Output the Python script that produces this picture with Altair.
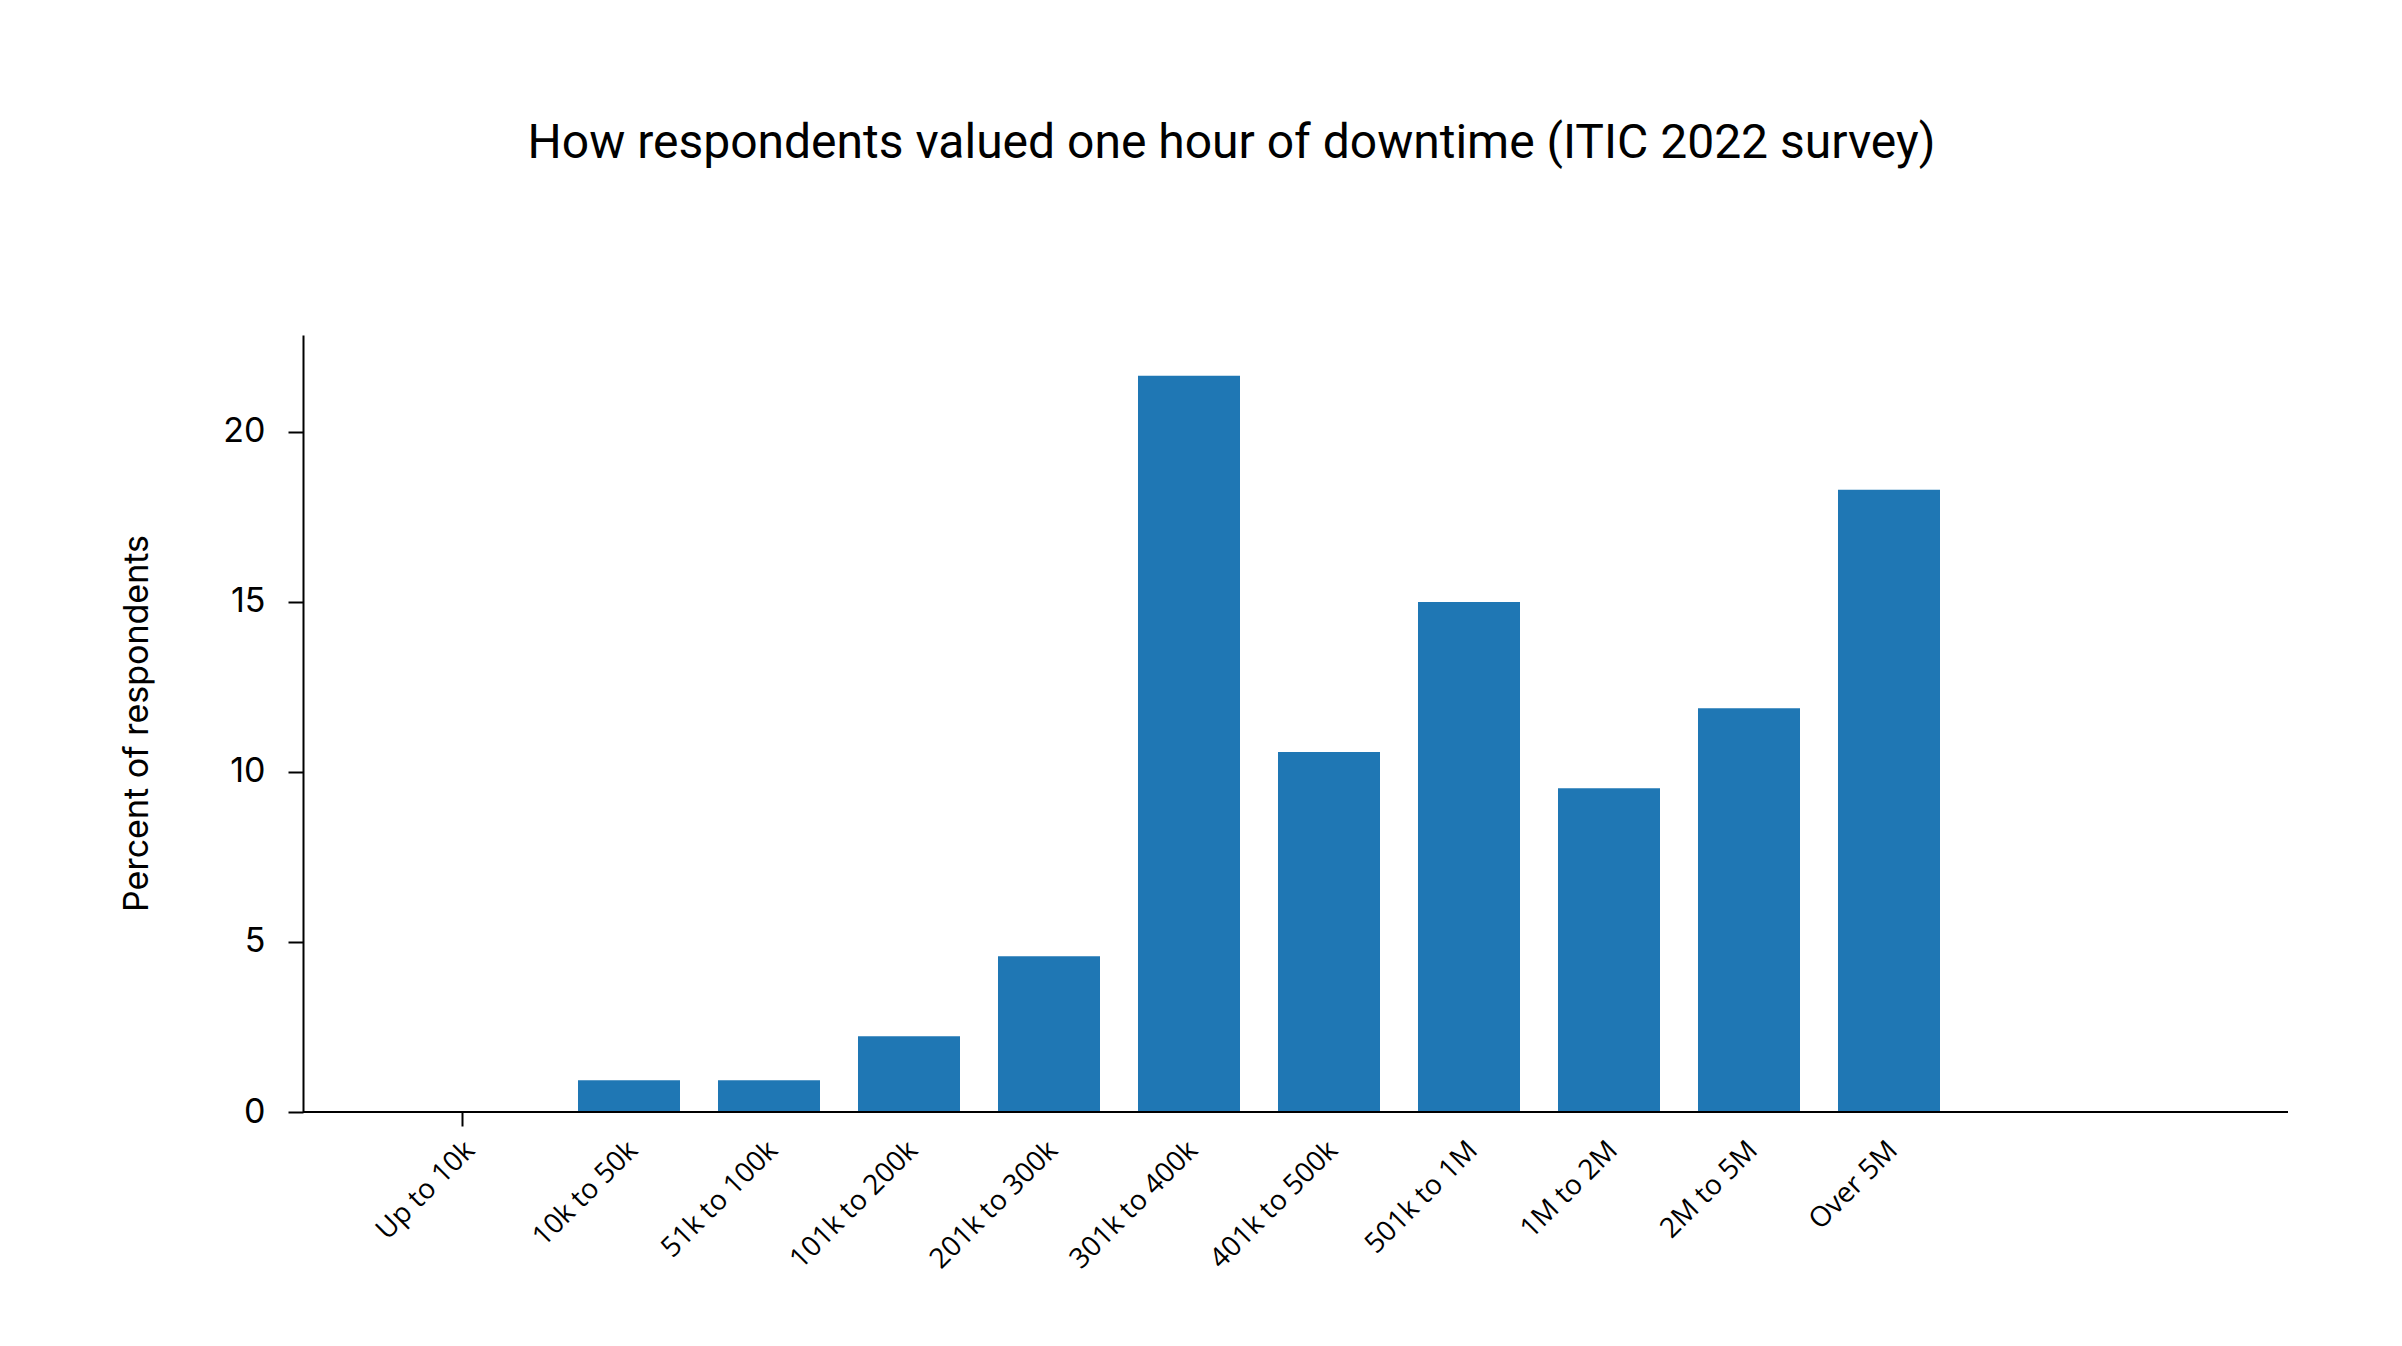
import altair as alt
import pandas as pd

categories = ["Up to 10k", "10k to 50k", "51k to 100k", "101k to 200k", "201k to 300k",
              "301k to 400k", "401k to 500k", "501k to 1M", "1M to 2M", "2M to 5M", "Over 5M"]
percent = [0, 0.93, 0.93, 2.23, 4.58, 21.64, 10.58, 14.99, 9.52, 11.87, 18.29]
y_ticks = [0, 5, 10, 15, 20]

df = pd.DataFrame({"category": categories, "percent": percent})

W, H = 1985, 777

base = alt.Chart(df)

first_cat = "datum.value === 'Up to 10k'"

bars = base.mark_bar(color="#1f77b4").encode(
    x=alt.X(
        "category:N",
        sort=categories,
        scale=alt.Scale(range=[135, 1637], paddingInner=0.2714, paddingOuter=0),
        axis=alt.Axis(
            title=None,
            labelAngle=-45,
            labelAlign="right",
            labelBaseline="top",
            labelFont="Open Sans",
            labelFontSize=28,
            labelColor="black",
            labelPadding=10,
            labelOffset={"condition": {"test": first_cat, "value": -2}, "value": 21},
            tickSize=14,
            tickWidth=2,
            tickColor="black",
            tickOffset=-27,
            tickOpacity={"condition": {"test": first_cat, "value": 1}, "value": 0},
            domain=False,
            grid=False,
        ),
    ),
    y=alt.Y(
        "percent:Q",
        scale=alt.Scale(domain=[0, 22.84], nice=False, zero=True),
        axis=alt.Axis(
            title="Percent of respondents",
            titleFont="Inter",
            titleFontSize=34,
            titleFontWeight="normal",
            titleColor="black",
            titleAngle=270,
            titleBaseline="middle",
            titleX=-166,
            titleY=388,
            values=y_ticks,
            labelFont="Inter",
            labelFontSize=34,
            labelColor="black",
            labelPadding=23,
            tickSize=15,
            tickWidth=2,
            tickColor="black",
            domainColor="black",
            domainWidth=2,
            grid=False,
        ),
    ),
)

baseline = base.mark_rule(color="black", strokeWidth=2).encode(
    y=alt.datum(0),
    x=alt.value(0),
    x2=alt.value(W),
)

chart = alt.layer(bars, baseline).properties(
    width=W,
    height=H,
    title=alt.TitleParams(
        text="How respondents valued one hour of downtime (ITIC 2022 survey)",
        font="Roboto",
        fontSize=48,
        fontWeight="normal",
        color="black",
        anchor="middle",
        dx=-64,
        baseline="alphabetic",
        offset=129,
    ),
    autosize=alt.AutoSizeParams(type="none"),
    padding={"left": 295, "top": 327, "right": 106, "bottom": 226},
).configure(
    background="white",
    view=alt.ViewConfig(stroke="transparent", strokeWidth=0),
)

chart.save("out.html", embed_options={"renderer": "svg", "actions": False})
